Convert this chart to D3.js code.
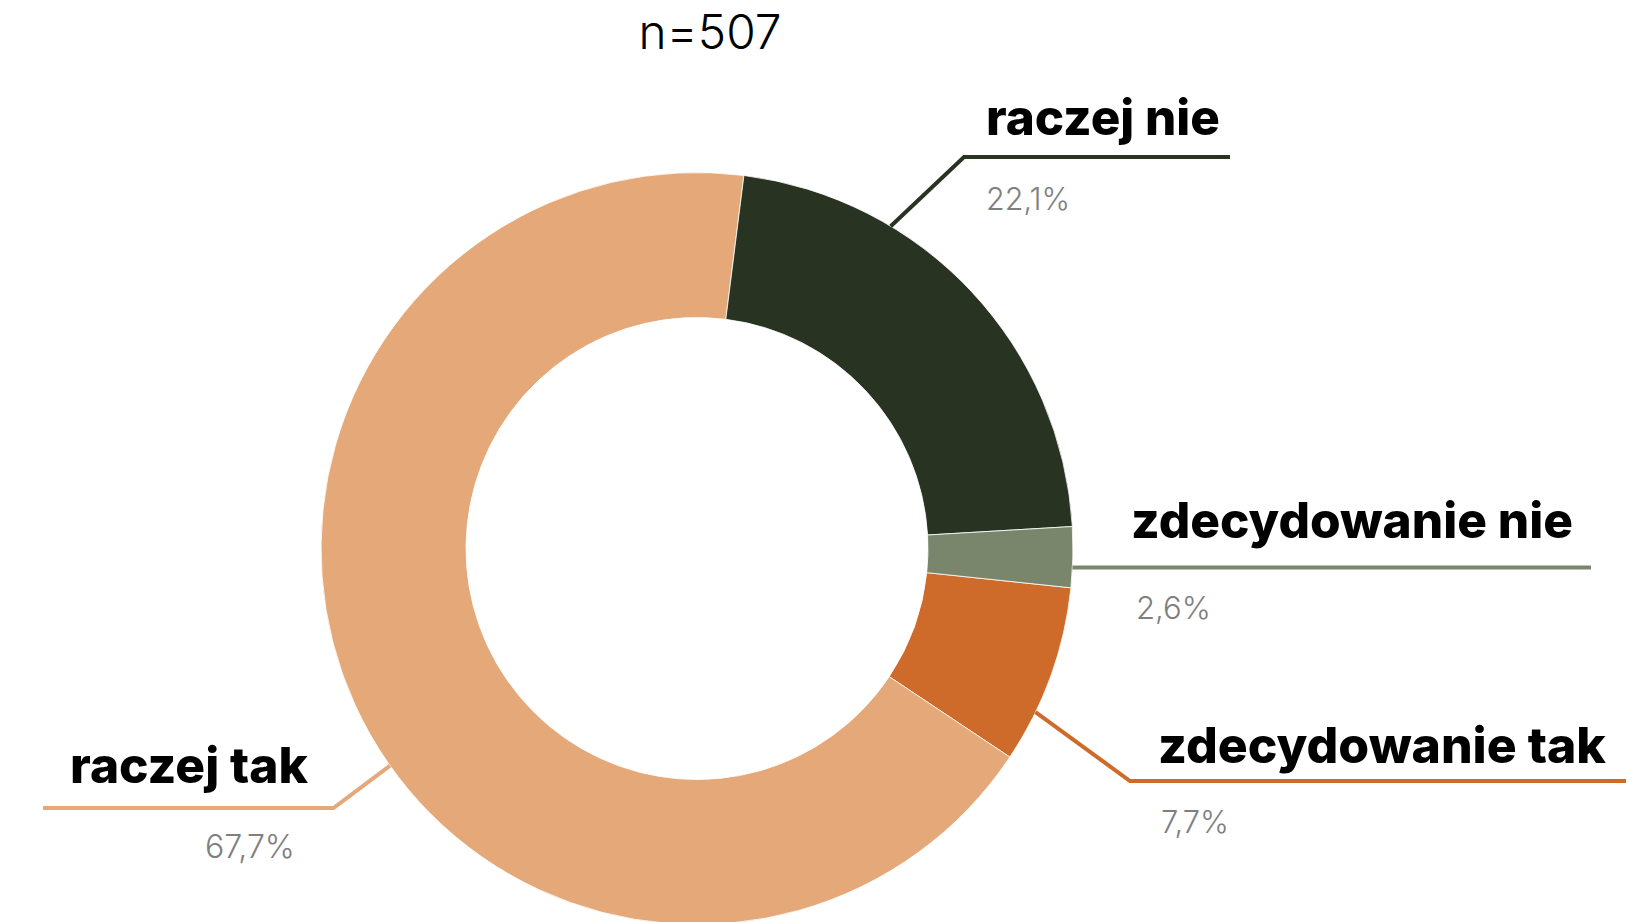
<!DOCTYPE html>
<html>
<head>
<meta charset="utf-8">
<script src="https://cdn.jsdelivr.net/npm/d3@7"></script>
<style>
  html, body { margin: 0; padding: 0; background: #ffffff; }
  svg { display: block; }
</style>
</head>
<body>
<svg id="chart" width="1629" height="922"></svg>
<script>
// Survey answers (share of respondents, %)
const categories = ["zdecydowanie tak", "raczej tak", "raczej nie", "zdecydowanie nie"];
const shares = [7.7, 67.7, 22.1, 2.6];
const sliceColors = ["#CE6B2A", "#E4A879", "#283421", "#7A866B"];
const sampleSize = 507;

const W = 1629, H = 922;
const cx = 697, cy = 548.5;
const outerR = 376, innerR = 231;
const deg = Math.PI / 180;

// Polish number formatting: decimal comma
const pl = d3.formatLocale({ decimal: ",", thousands: " ", grouping: [3], currency: ["", " zł"] });
const pct = v => pl.format(".1f")(v) + "%";

// Callout placement per category: where the leader leaves the rim (fraction of the slice),
// the elbow, the far end of the underline, and where name / percentage sit [x, baseline, width].
const callouts = {
  "raczej nie":       { along: 0.30,  elbow: [964, 157],   end: 1230, name: [986, 135, 234],  val: [986, 210, 84] },
  "zdecydowanie nie": { along: 0.67,  elbow: null,         end: 1591, name: [1131, 538, 442], val: [1136, 619, 75] },
  "zdecydowanie tak": { along: 0.715, elbow: [1130, 781],  end: 1626, name: [1158, 763, 448], val: [1161, 833, 68] },
  "raczej tak":       { along: 0.456, elbow: [333.5, 808], end: 43,   name: [70, 783, 238],   val: [205, 858, 90] }
};

const svg = d3.select("#chart");
svg.append("rect").attr("width", W).attr("height", H).attr("fill", "#ffffff");

const rows = categories.map((c, i) => ({ cat: c, value: shares[i], color: sliceColors[i] }));

const pie = d3.pie()
  .sort(null)
  .value(d => d.value)
  .startAngle(96 * deg)
  .endAngle(96 * deg + 2 * Math.PI);

const arcs = pie(rows);
const arc = d3.arc().innerRadius(innerR).outerRadius(outerR);

const g = svg.append("g").attr("transform", `translate(${cx},${cy})`);
g.selectAll("path.slice")
  .data(arcs)
  .join("path")
  .attr("class", "slice")
  .attr("d", arc)
  .attr("fill", d => d.data.color)
  .attr("stroke", "#ffffff")
  .attr("stroke-width", 0.8);

// Shrinks/grows a text element so that its rendered width equals the target
function fitWidth(sel, target) {
  const node = sel.node();
  const fs = parseFloat(sel.attr("font-size"));
  const w = node.getComputedTextLength();
  if (w > 0) sel.attr("font-size", (fs * target / w).toFixed(2));
}

// Leader lines and labels
const labels = svg.append("g");
arcs.forEach(a => {
  const c = callouts[a.data.cat];
  const ang = a.startAngle + (a.endAngle - a.startAngle) * c.along;
  const rim = [cx + outerR * Math.sin(ang), cy - outerR * Math.cos(ang)];
  const pts = [rim];
  if (c.elbow) {
    pts.push(c.elbow);
    pts.push([c.end, c.elbow[1]]);
  } else {
    pts.push([c.end, rim[1]]);
  }
  labels.append("path")
    .attr("d", d3.line()(pts))
    .attr("fill", "none")
    .attr("stroke", a.data.color)
    .attr("stroke-width", 4)
    .attr("stroke-linejoin", "miter");

  const name = labels.append("text")
    .attr("x", c.name[0]).attr("y", c.name[1])
    .attr("font-family", "Inter, 'Noto Sans', sans-serif")
    .attr("font-weight", 800)
    .attr("font-size", 40)
    .attr("fill", "#000000")
    .text(a.data.cat);
  fitWidth(name, c.name[2]);

  const val = labels.append("text")
    .attr("x", c.val[0]).attr("y", c.val[1])
    .attr("font-family", "Inter, 'Noto Sans', sans-serif")
    .attr("font-weight", 300)
    .attr("font-size", 30)
    .attr("fill", "#7f7f7f")
    .text(pct(a.data.value));
  fitWidth(val, c.val[2]);
});

// Sample size
const title = svg.append("text")
  .attr("x", 710).attr("y", 49)
  .attr("text-anchor", "middle")
  .attr("font-family", "Inter, 'Noto Sans', sans-serif")
  .attr("font-weight", 300)
  .attr("font-size", 44)
  .attr("fill", "#000000")
  .text("n=" + sampleSize);
fitWidth(title, 143);
</script>
</body>
</html>
